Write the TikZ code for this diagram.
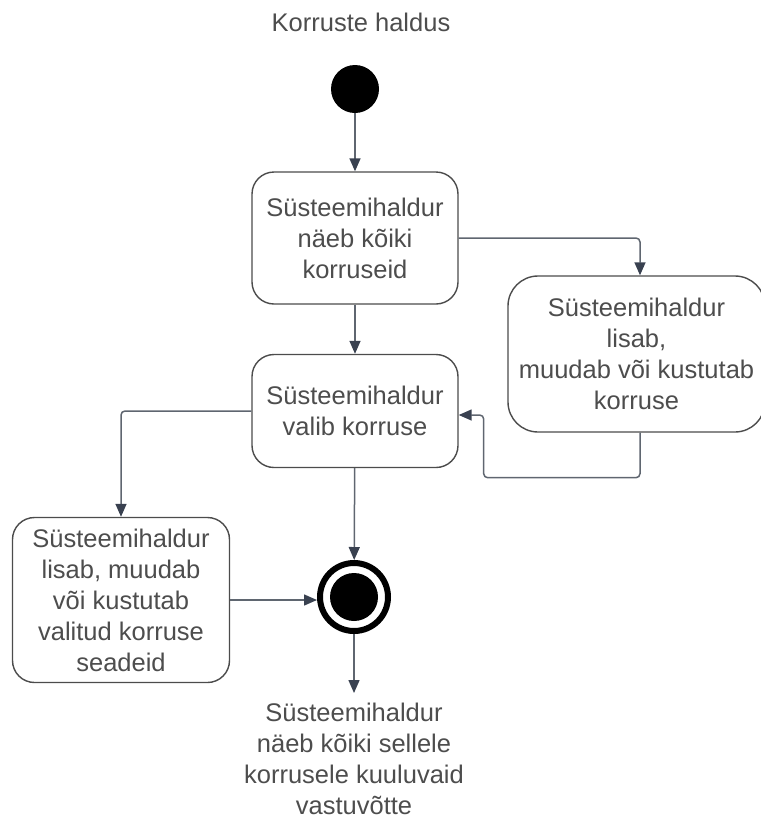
\documentclass[tikz,border=0pt]{standalone}
\usepackage{fontspec}
\setmainfont{Liberation Sans}
\usepackage{xcolor}
\usetikzlibrary{arrows.meta,positioning}
\definecolor{txt}{HTML}{4D4D4D}
\definecolor{edge}{HTML}{5F6670}
\definecolor{tip}{HTML}{394150}

\begin{document}
\begin{tikzpicture}[x=1pt, y=-1pt, font=\fontsize{25.5}{31}\selectfont, text=txt,
  box/.style={draw=black!70, line width=1.4pt, rounded corners=22pt, align=center, fill=white},
  lbl/.style={align=center, inner sep=10pt},
  init/.style={circle, fill=black, minimum size=48pt, inner sep=0pt},
  final/.style={circle, draw=black, line width=6pt, fill=white, minimum size=68pt, inner sep=0pt,
    path picture={\fill[black] (path picture bounding box.center) circle (24pt);}},
  arr/.style={-{Triangle[length=13pt, width=11pt, color=tip]}, line width=1.5pt, draw=edge, rounded corners=4pt}]
  \useasboundingbox (0,0) rectangle (761,820);
  \node (title) at (361,22) {Korruste haldus};
  \node[init] (start) at (355,89) {};
  \node[box, minimum width=206pt, minimum height=132pt] (see) at (355,238) {Süsteemihaldur\\näeb kõiki\\korruseid};
  \node[box, minimum width=257pt, minimum height=156pt, rounded corners=30pt] (edit) at (636.5,354) {Süsteemihaldur\\lisab,\\muudab või kustutab\\korruse};
  \node[box, minimum width=206pt, minimum height=113pt] (pick) at (355,411) {Süsteemihaldur\\valib korruse};
  \node[box, minimum width=217pt, minimum height=165pt] (setup) at (121,600) {Süsteemihaldur\\lisab, muudab\\või kustutab\\valitud korruse\\seadeid};
  \node[final] (stop) at (354,597) {};
  \node[lbl, below=59pt of stop] (view) {Süsteemihaldur\\näeb kõiki sellele\\korrusele kuuluvaid\\vastuvõtte};
  \draw[arr] (start) -- (see); \draw[arr] (see) -- (pick);
  \draw[arr] (see.east) -| ([xshift=3.5pt]edit.north);
  \draw[arr] ([xshift=3.5pt]edit.south) -- ++(0,45) -| ([xshift=25pt,yshift=-4pt]pick.east) -- ([yshift=-4pt]pick.east);
  \draw[arr] (pick.west) -| (setup.north);
  \draw[arr] (pick) -- (stop);
  \draw[arr] (setup.east) -- (setup.east -| stop.west);
  \draw[arr] (stop) -- (view);
\end{tikzpicture}
\end{document}
